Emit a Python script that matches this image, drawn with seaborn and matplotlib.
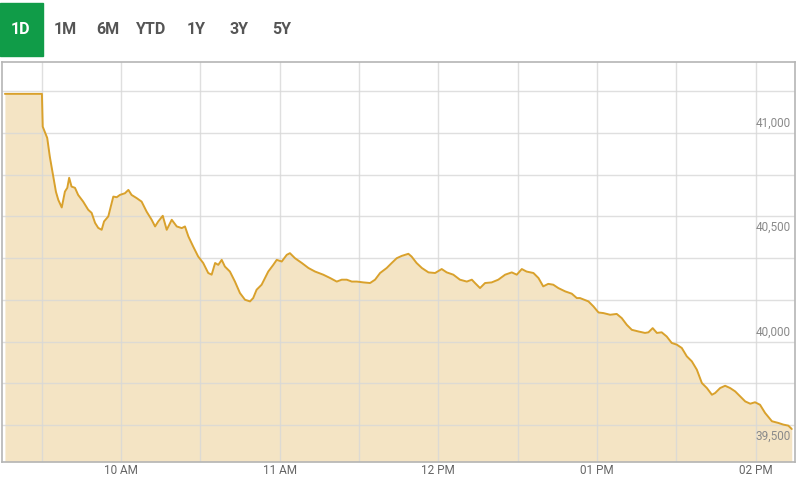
import matplotlib
matplotlib.use("Agg")
import matplotlib.pyplot as plt
import seaborn as sns
import pandas as pd

# intraday index (minutes since midnight -> value)
minutes = [556.1, 570.1, 570.4, 572.1, 573.1, 574.4, 575.4, 576.3, 577.6, 578.8,
           579.7, 580.4, 581.3, 582.6, 583.8, 585.7, 587.6, 588.9, 590.2, 591.4,
           592.7, 593.6, 595.2, 597.1, 598.4, 599.6, 601.5, 602.8, 604.0, 605.9,
           607.8, 609.7, 611.6, 612.9, 614.1, 615.8, 617.3, 619.2, 621.1, 623.0,
           624.2, 625.5, 627.3, 629.2, 631.1, 633.0, 634.3, 635.6, 636.8, 638.1,
           639.3, 641.2, 643.1, 645.0, 646.9, 648.8, 650.0, 651.3, 653.2, 655.7,
           657.6, 658.9, 660.8, 662.7, 663.9, 665.8, 668.4, 670.9, 673.4, 676.5,
           679.1, 681.6, 683.5, 685.4, 687.3, 689.2, 691.7, 694.2, 696.1, 698.0,
           700.5, 702.4, 704.3, 706.2, 708.7, 709.9, 711.8, 713.8, 716.3, 718.8,
           721.3, 723.2, 725.7, 728.2, 730.8, 732.7, 733.9, 735.8, 737.7, 740.2,
           742.7, 745.3, 747.8, 749.7, 751.6, 753.4, 756.0, 757.9, 759.7, 761.6,
           763.5, 765.4, 768.0, 770.5, 772.4, 773.6, 776.8, 778.7, 780.6, 782.5,
           785.0, 787.5, 789.4, 791.3, 793.2, 795.7, 798.2, 799.5, 801.1, 802.7,
           804.5, 806.4, 808.3, 810.2, 812.1, 814.0, 815.9, 817.8, 819.7, 821.6,
           823.5, 824.7, 826.6, 828.5, 830.4, 832.3, 834.2, 836.1, 838.0, 839.8,
           841.7, 843.6, 846.2, 848.6, 850.5, 852.4, 853.7]
values = [41187, 41187, 41030, 40976, 40885, 40789, 40718, 40679, 40643, 40719,
          40737, 40785, 40743, 40737, 40703, 40671, 40632, 40617, 40569, 40545,
          40536, 40576, 40600, 40695, 40692, 40703, 40711, 40727, 40703, 40688,
          40671, 40623, 40584, 40552, 40576, 40603, 40536, 40584, 40552, 40544,
          40552, 40504, 40456, 40408, 40377, 40329, 40321, 40377, 40368, 40392,
          40360, 40336, 40288, 40233, 40201, 40193, 40209, 40249, 40273, 40336,
          40368, 40392, 40384, 40416, 40424, 40400, 40377, 40353, 40336, 40321,
          40305, 40288, 40297, 40297, 40288, 40288, 40284, 40281, 40297, 40329,
          40353, 40377, 40400, 40411, 40421, 40408, 40377, 40353, 40332, 40329,
          40348, 40332, 40321, 40297, 40288, 40297, 40281, 40257, 40281, 40284,
          40297, 40321, 40332, 40321, 40348, 40336, 40329, 40305, 40265, 40277,
          40273, 40257, 40241, 40230, 40209, 40209, 40193, 40169, 40140, 40137,
          40129, 40133, 40113, 40081, 40057, 40049, 40042, 40045, 40065, 40042,
          40045, 40025, 39994, 39986, 39970, 39930, 39906, 39866, 39802, 39778,
          39746, 39754, 39778, 39789, 39778, 39762, 39738, 39714, 39703, 39710,
          39698, 39659, 39619, 39611, 39603, 39598, 39582]

hour_ticks = [600, 660, 720, 780, 840]
hour_labels = ["10 AM", "11 AM", "12 PM", "01 PM", "02 PM"]
y_labels = [39500, 40000, 40500, 41000]
buttons = ["1D", "1M", "6M", "YTD", "1Y", "3Y", "5Y"]

df = pd.DataFrame({"t": minutes, "v": values})

sns.set_style("white")
plt.rcParams['font.family'] = ['Roboto', 'DejaVu Sans']

line_col = "#d9a12c"
fill_col = "#f4e4c4"

fig = plt.figure(figsize=(8, 4.8), dpi=100)
ax = fig.add_axes([0.0025, 0.038, 0.9915, 0.833])

ymin, ymax = 39425, 41340
ax.fill_between(df["t"], df["v"], ymin, color=fill_col, lw=0, zorder=1)
sns.lineplot(data=df, x="t", y="v", ax=ax, color=line_col, lw=1.4, zorder=3)

ax.set_xlim(555, 855)
ax.set_ylim(ymin, ymax)

# grid
for gx in range(570, 855, 30):
    ax.axvline(gx, color="#d8d8d8", lw=1, zorder=2, alpha=0.8)
for gy in range(39600, 41300, 200):
    ax.axhline(gy, color="#d8d8d8", lw=1, zorder=2, alpha=0.8)

ax.set_xticks([])
ax.set_yticks([])
ax.set_xlabel("")
ax.set_ylabel("")
for s in ax.spines.values():
    s.set_color("#b5b5b5")
    s.set_linewidth(1.2)

# y labels sit inside the plot, just above their level
for yv in y_labels:
    ax.annotate(f"{yv:,}", xy=(1, yv), xycoords=("axes fraction", "data"),
                xytext=(-3, 7), textcoords="offset points",
                ha="right", va="center", fontsize=8.5, color="#8a8a8a")

# x labels below the plot
for xv, lab in zip(hour_ticks, hour_labels):
    ax.annotate(lab, xy=(xv, 0), xycoords=("data", "axes fraction"),
                xytext=(0, -6.5), textcoords="offset points",
                ha="center", va="center", fontsize=8.5, color="#666666",
                annotation_clip=False)

# range buttons at top
btn_x = [21, 65, 108, 151, 196, 239, 282]
fig.patches.append(plt.Rectangle((0, 1 - 56 / 480), 43 / 800, 53 / 480,
                                 transform=fig.transFigure, color="#109c48",
                                 zorder=0))
for bx, b in zip(btn_x, buttons):
    fig.text(bx / 800, 1 - 30 / 480, b, ha="center", va="center",
             fontsize=11.5, fontweight="bold",
             color="white" if b == "1D" else "#555555")

plt.savefig("out.png", dpi=100)
